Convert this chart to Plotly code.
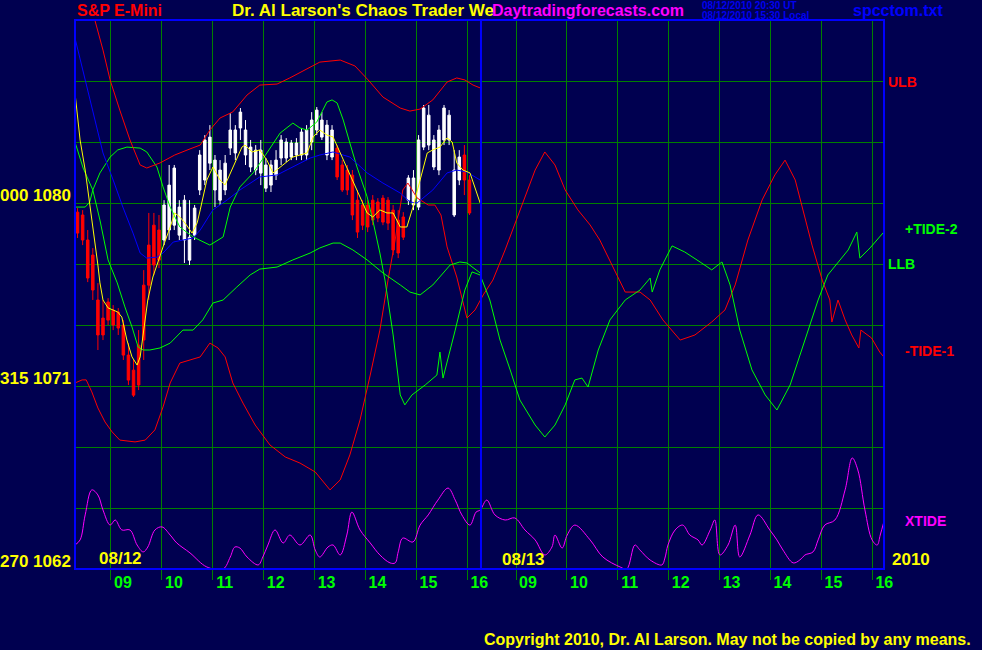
import plotly.graph_objects as go

# ---------------- axis / labels ----------------
# x = session hours measured from the left edge of the chart (08/12 ~08:17)
hour_labels = ["09", "10", "11", "12", "13", "14", "15", "16",
               "09", "10", "11", "12", "13", "14", "15", "16"]
hour_tick_t = [0.707, 1.707, 2.707, 3.707, 4.707, 5.707, 6.707, 7.707,
               8.664, 9.664, 10.664, 11.664, 12.664, 13.664, 14.664, 15.664]
now_t = 7.976
x_end = 15.894
price_min, price_max = 1062, 1089

# ---------------- price bars (08/12, 6-minute bars) ----------------
bar_t = [round(0.05 + 0.1 * k, 2) for k in range(79)]
bar_high = [1079.75, 1079.65, 1078.67, 1077.78, 1076.06, 1075.23, 1075.32, 1074.98, 1074.83, 1074.24,
            1073.11, 1072.28, 1073.75, 1076.70, 1079.51, 1079.51, 1079.41, 1080.14, 1081.87, 1081.87,
            1080.14, 1080.39, 1080.14, 1079.90, 1082.60, 1083.34, 1083.83, 1082.36, 1082.11, 1082.36,
            1084.42, 1083.83, 1084.67, 1084.08, 1083.10, 1082.85, 1083.10, 1082.21, 1082.11, 1082.60,
            1083.34, 1083.19, 1083.10, 1083.19, 1083.69, 1083.83, 1084.47, 1084.72, 1084.47, 1084.08,
            1083.83, 1082.85, 1082.11, 1081.87, 1081.62, 1080.64, 1080.14, 1080.14, 1080.39, 1080.24,
            1080.39, 1080.29, 1079.90, 1079.65, 1079.55, 1081.37, 1081.62, 1083.34, 1084.82, 1084.82,
            1083.34, 1083.83, 1084.82, 1084.57, 1082.60, 1082.60, 1082.85, 1081.37, 1080.14]
bar_low = [1078.28, 1077.93, 1076.11, 1075.23, 1072.77, 1073.26, 1074.00, 1073.75, 1073.51, 1072.28,
           1071.05, 1070.46, 1070.80, 1072.28, 1075.23, 1076.46, 1076.80, 1077.93, 1078.18, 1078.67,
           1078.18, 1077.05, 1076.95, 1078.18, 1080.39, 1080.88, 1081.62, 1079.80, 1079.90, 1080.39,
           1082.36, 1082.11, 1083.10, 1081.87, 1081.52, 1081.37, 1080.88, 1080.54, 1080.54, 1081.13,
           1081.87, 1082.01, 1082.11, 1082.11, 1082.11, 1082.11, 1082.60, 1083.34, 1083.10, 1082.11,
           1082.11, 1081.13, 1080.54, 1080.39, 1079.16, 1078.28, 1078.67, 1078.57, 1078.91, 1079.06,
           1078.91, 1078.67, 1077.44, 1077.29, 1078.18, 1079.90, 1079.65, 1079.65, 1082.60, 1082.60,
           1081.62, 1081.37, 1082.85, 1082.85, 1079.31, 1080.88, 1080.39, 1079.41, 1078.91]
bar_open = [1079.55, 1079.41, 1078.18, 1077.44, 1075.23, 1074.34, 1075.13, 1074.73, 1074.64, 1074.00,
            1072.52, 1071.78, 1073.01, 1075.96, 1077.93, 1078.91, 1078.67, 1079.90, 1080.88, 1081.72,
            1079.80, 1080.14, 1078.32, 1079.75, 1082.36, 1083.10, 1083.24, 1082.11, 1081.62, 1081.96,
            1083.59, 1083.59, 1084.47, 1083.59, 1082.75, 1082.60, 1082.60, 1081.87, 1081.87, 1082.11,
            1083.10, 1083.00, 1082.95, 1082.95, 1083.49, 1083.59, 1084.08, 1084.57, 1084.08, 1083.83,
            1083.59, 1082.70, 1081.87, 1081.62, 1081.37, 1080.14, 1079.90, 1079.90, 1080.14, 1080.05,
            1080.24, 1080.14, 1079.65, 1079.16, 1079.31, 1081.23, 1081.23, 1083.10, 1084.67, 1084.32,
            1083.10, 1083.59, 1084.67, 1084.32, 1081.62, 1082.26, 1082.36, 1081.13, 1079.80]
bar_close = [1078.52, 1078.18, 1076.31, 1075.72, 1073.51, 1073.51, 1074.24, 1074.00, 1073.85, 1072.52,
             1071.29, 1070.55, 1071.05, 1073.26, 1075.96, 1076.95, 1077.19, 1078.18, 1078.67, 1078.91,
             1078.42, 1078.18, 1077.19, 1078.42, 1080.64, 1081.13, 1081.96, 1080.64, 1080.14, 1080.64,
             1082.70, 1082.46, 1083.69, 1082.36, 1081.77, 1081.62, 1081.47, 1080.73, 1080.88, 1081.37,
             1082.21, 1082.21, 1082.26, 1082.36, 1082.36, 1082.36, 1083.00, 1083.59, 1083.24, 1082.36,
             1082.26, 1081.28, 1080.64, 1080.64, 1079.41, 1078.57, 1078.91, 1078.82, 1079.16, 1079.26,
             1079.06, 1079.01, 1077.69, 1077.54, 1078.32, 1080.14, 1079.90, 1079.80, 1082.75, 1082.85,
             1081.77, 1081.62, 1083.10, 1083.10, 1079.41, 1081.13, 1081.13, 1079.51, 1079.01]
bar_trend = "RRRRRRRRRRRRRRRRRWWWWWWWWWWWWWWWWWWWWWWWWWWWWWWWWWWRRRRRRRRRRRRRRWWWWWWWWWWWRR"

# ---------------- bands and averages (08/12 only) ----------------
ulb_t = [0.26, 0.39, 0.55, 0.69, 0.88, 1.08, 1.28, 1.41, 1.67, 1.96, 2.26, 2.46, 2.65, 2.85, 3.10, 3.38, 3.63,
         3.97, 4.22, 4.52, 4.81, 5.21, 5.50, 5.76, 6.05, 6.39, 6.58, 6.78, 7.03, 7.31, 7.50, 7.66, 7.82, 7.96]
ulb_p = [1089.74, 1089.00, 1087.52, 1086.05, 1084.57, 1083.10, 1081.87, 1081.72, 1081.97, 1082.36, 1082.66,
         1082.85, 1083.59, 1084.18, 1084.48, 1085.31, 1085.80, 1085.85, 1086.15, 1086.54, 1086.93, 1087.03,
         1086.74, 1086.05, 1085.21, 1084.67, 1084.52, 1084.62, 1085.07, 1085.95, 1086.15, 1086.05, 1085.80, 1085.66]

llb_t = [0, 0.16, 0.35, 0.49, 0.65, 0.83, 0.98, 1.12, 1.24, 1.34, 1.47, 1.67, 1.87, 2.12, 2.32, 2.51, 2.71, 2.91,
         3.18, 3.44, 3.63, 3.97, 4.28, 4.62, 4.81, 5.07, 5.21, 5.46, 5.74, 6.05, 6.39, 6.58, 6.78, 7.03, 7.37,
         7.56, 7.70, 7.96]
llb_p = [1083.00, 1081.72, 1080.64, 1079.16, 1077.20, 1076.07, 1074.89, 1073.90, 1072.92, 1072.77, 1072.77,
         1072.87, 1073.11, 1073.75, 1073.75, 1074.25, 1075.08, 1075.23, 1075.87, 1076.46, 1076.75, 1076.85,
         1077.20, 1077.54, 1077.79, 1078.03, 1078.03, 1077.69, 1077.20, 1076.56, 1075.97, 1075.62, 1075.48,
         1075.97, 1076.95, 1077.10, 1077.05, 1076.56]

slow_t = [0, 0.20, 0.35, 0.55, 0.75, 0.94, 1.14, 1.28, 1.41, 1.61, 1.73, 1.93, 2.32, 2.46, 2.71, 2.99, 3.24,
          3.63, 3.97, 4.28, 4.62, 4.81, 5.07, 5.40, 5.74, 6.05, 6.39, 6.58, 6.72, 7.03, 7.31, 7.50, 7.70, 7.96]
slow_p = [1088.11, 1086.05, 1084.43, 1082.46, 1081.13, 1079.80, 1078.52, 1077.54, 1077.29, 1077.34, 1077.54,
          1078.08, 1078.28, 1078.67, 1079.66, 1080.15, 1080.64, 1081.28, 1081.38, 1081.77, 1082.21, 1082.36,
          1082.51, 1082.26, 1081.48, 1080.98, 1080.49, 1080.05, 1080.00, 1080.64, 1081.48, 1081.62, 1081.52, 1081.13]

fast_t = [0, 0.10, 0.20, 0.29, 0.39, 0.45, 0.49, 0.55, 0.65, 0.84, 0.92, 1.02, 1.12, 1.22, 1.28, 1.34, 1.43,
          1.53, 1.67, 1.73, 1.87, 1.96, 2.06, 2.16, 2.30, 2.40, 2.46, 2.59, 2.71, 2.85, 2.95, 3.10, 3.28, 3.34,
          3.48, 3.63, 3.77, 3.89, 4.03, 4.28, 4.56, 4.68, 4.81, 4.95, 5.07, 5.21, 5.34, 5.46, 5.60, 5.74, 5.85,
          5.99, 6.13, 6.25, 6.39, 6.52, 6.64, 6.78, 6.92, 7.03, 7.17, 7.31, 7.41, 7.50, 7.62, 7.76, 7.96]
fast_p = [1085.41, 1083.10, 1081.62, 1080.00, 1078.18, 1076.95, 1076.07, 1075.23, 1074.84, 1074.64, 1074.39,
          1073.26, 1072.43, 1072.03, 1072.43, 1073.61, 1075.23, 1076.36, 1077.44, 1077.84, 1078.82, 1079.51,
          1079.31, 1079.02, 1078.52, 1079.02, 1079.66, 1081.13, 1081.77, 1081.13, 1080.89, 1081.77, 1082.75,
          1082.85, 1082.51, 1082.61, 1082.11, 1081.48, 1081.77, 1082.26, 1082.46, 1083.25, 1083.59, 1083.34,
          1083.25, 1082.46, 1081.77, 1081.13, 1080.30, 1079.51, 1079.31, 1079.66, 1079.51, 1079.51, 1078.82,
          1078.82, 1079.80, 1081.13, 1082.46, 1082.61, 1082.75, 1083.20, 1083.00, 1081.97, 1081.62, 1081.48, 1080.00]

# ---------------- tides (both days) ----------------
tide2_t = [0, 0.20, 0.29, 0.35, 0.49, 0.69, 0.84, 1.02, 1.28, 1.41, 1.61, 1.73, 1.87, 2.06, 2.32, 2.65, 2.91,
           3.05, 3.24, 3.50, 3.77, 4.03, 4.28, 4.42, 4.56, 4.75, 4.95, 5.05, 5.15, 5.27, 5.40, 5.54, 5.74, 5.85,
           5.99, 6.09, 6.25, 6.39, 6.48, 6.62, 6.88, 7.11, 7.17, 7.23, 7.47, 7.66, 7.80, 7.96, 8.15, 8.35, 8.55,
           8.74, 9.04, 9.23, 9.43, 9.63, 9.82, 9.96, 10.08, 10.28, 10.51, 10.81, 11.10, 11.30, 11.34, 11.49,
           11.73, 11.98, 12.28, 12.51, 12.71, 12.87, 13.06, 13.30, 13.56, 13.79, 14.05, 14.34, 14.60, 14.79,
           14.99, 15.19, 15.36, 15.42, 15.62, 15.89]
tide2_p = [1079.80, 1079.80, 1080.05, 1080.64, 1081.48, 1082.26, 1082.61, 1082.75, 1082.70, 1082.51,
           1081.77, 1080.79, 1079.80, 1078.82, 1078.33, 1077.93, 1078.33, 1079.80, 1080.79, 1081.48,
           1082.46, 1083.44, 1083.93, 1083.69, 1083.59, 1083.98, 1084.97, 1085.07, 1084.92, 1084.08,
           1082.95, 1081.77, 1080.30, 1079.16, 1077.54, 1076.21, 1073.51, 1070.56, 1070.07, 1070.56,
           1071.05, 1071.54, 1072.67, 1071.39, 1073.75, 1075.72, 1076.61, 1076.46, 1075.23, 1073.26,
           1071.79, 1070.31, 1069.08, 1068.49, 1069.08, 1070.07, 1071.30, 1071.39, 1070.95, 1072.77,
           1074.25, 1075.23, 1075.72, 1076.31, 1075.62, 1076.71, 1077.89, 1077.59, 1077.10, 1076.71,
           1077.10, 1075.97, 1073.75, 1071.79, 1070.56, 1069.82, 1071.05, 1073.26, 1075.23, 1076.46,
           1077.10, 1077.69, 1078.57, 1077.29, 1077.79, 1078.57]

tide1_t = [0, 0.14, 0.22, 0.33, 0.45, 0.59, 0.73, 0.88, 1.18, 1.38, 1.57, 1.73, 1.87, 2.06, 2.26, 2.46, 2.65,
           2.81, 2.95, 3.10, 3.30, 3.54, 3.83, 4.13, 4.42, 4.72, 5.01, 5.21, 5.40, 5.60, 5.80, 5.99, 6.15, 6.29,
           6.44, 6.54, 6.72, 6.94, 7.07, 7.19, 7.31, 7.50, 7.70, 7.86, 8.02, 8.21, 8.45, 8.74, 9.04, 9.23, 9.43,
           9.63, 9.88, 10.12, 10.31, 10.55, 10.81, 11.10, 11.30, 11.55, 11.89, 12.18, 12.51, 12.77, 12.97,
           13.22, 13.50, 13.75, 13.95, 14.15, 14.30, 14.48, 14.68, 14.83, 14.87, 14.99, 15.13, 15.26, 15.40,
           15.44, 15.65, 15.81, 15.89]
tide1_p = [1071.15, 1071.30, 1071.30, 1070.71, 1069.92, 1069.23, 1068.74, 1068.34, 1068.25, 1068.34,
           1068.84, 1069.97, 1071.15, 1072.13, 1072.28, 1072.43, 1073.11, 1072.87, 1072.43, 1071.15,
           1070.16, 1069.08, 1068.10, 1067.51, 1067.21, 1066.77, 1065.89, 1066.38, 1067.61, 1069.33,
           1071.54, 1073.75, 1076.21, 1078.18, 1080.64, 1080.98, 1080.25, 1079.90, 1079.90, 1079.41,
           1077.84, 1076.36, 1074.34, 1074.74, 1075.48, 1076.21, 1077.69, 1079.66, 1081.62, 1082.51,
           1081.87, 1080.64, 1079.66, 1078.92, 1078.18, 1076.95, 1075.62, 1075.62, 1075.23, 1074.25,
           1073.26, 1073.51, 1074.15, 1074.74, 1075.97, 1078.18, 1080.15, 1081.38, 1082.11, 1081.13,
           1079.66, 1077.93, 1076.21, 1075.23, 1074.15, 1075.23, 1074.25, 1073.51, 1072.87, 1073.75,
           1073.36, 1072.67, 1072.43]

xtide_t = [0.00, 0.10, 0.20, 0.33, 0.45, 0.55, 0.69, 0.79, 0.92, 1.08, 1.22, 1.34, 1.43, 1.57, 1.71, 1.87,
           2.00, 2.26, 2.59, 2.91, 3.05, 3.14, 3.24, 3.38, 3.60, 3.69, 3.79, 3.93, 4.09, 4.22, 4.42, 4.62,
           4.72, 4.81, 4.97, 5.07, 5.21, 5.34, 5.44, 5.60, 5.80, 5.99, 6.19, 6.29, 6.35, 6.44, 6.64, 6.78,
           6.94, 7.13, 7.33, 7.47, 7.60, 7.76, 7.88, 7.96, 8.09, 8.25, 8.45, 8.64, 8.84, 9.04, 9.23, 9.37,
           9.43, 9.57, 9.67, 9.82, 10.12, 10.37, 10.71, 10.84, 11.00, 11.10, 11.30, 11.53, 11.59, 11.65,
           11.79, 11.94, 12.08, 12.24, 12.32, 12.48, 12.57, 12.67, 12.83, 12.97, 13.06, 13.26, 13.42, 13.65,
           13.79, 13.91, 14.11, 14.24, 14.34, 14.50, 14.60, 14.73, 14.93, 15.13, 15.27, 15.38, 15.52, 15.66,
           15.76, 15.82, 15.89]
xtide_p = [1063.18, 1063.43, 1064.66, 1065.89, 1065.64, 1064.90, 1064.16, 1064.41, 1063.92, 1063.92,
           1063.18, 1062.84, 1063.08, 1063.92, 1064.07, 1063.67, 1063.28, 1062.79, 1062.10, 1062.00,
           1062.59, 1063.08, 1063.03, 1062.59, 1062.20, 1062.59, 1063.18, 1063.92, 1063.28, 1063.67,
           1063.18, 1063.67, 1062.93, 1062.59, 1063.08, 1063.18, 1062.69, 1063.67, 1064.80, 1063.92,
           1063.28, 1062.69, 1062.30, 1062.30, 1062.84, 1063.52, 1063.33, 1064.16, 1064.66, 1065.39,
           1065.98, 1065.39, 1064.66, 1064.16, 1064.80, 1064.90, 1065.39, 1064.66, 1064.41, 1064.51,
           1063.92, 1063.43, 1062.69, 1063.08, 1063.67, 1063.03, 1063.67, 1064.16, 1063.43, 1062.59,
           1062.10, 1062.00, 1063.18, 1062.93, 1062.44, 1062.20, 1062.54, 1063.18, 1063.92, 1064.16,
           1063.67, 1063.43, 1063.18, 1063.92, 1064.41, 1062.69, 1063.18, 1064.16, 1062.59, 1063.67,
           1064.66, 1063.92, 1063.43, 1062.93, 1062.30, 1062.44, 1062.69, 1062.84, 1063.43, 1064.16,
           1064.41, 1065.89, 1067.46, 1066.87, 1064.90, 1063.43, 1063.18, 1063.67, 1064.31]

# ---------------- colours ----------------
BG = "#000050"
GRID = "#008000"
FRAME = "#0000ff"
RED = "#ff0000"
GREEN = "#00ff00"
YELLOW = "#ffff00"
MAGENTA = "#ff00ff"
BLUE = "#0000ff"
FONT = "Liberation Sans, Arial, sans-serif"

fig = go.Figure()


def line(t, p, color, shape="linear"):
    fig.add_trace(go.Scatter(x=t, y=p, mode="lines", line=dict(color=color, width=1, shape=shape),
                             hoverinfo="skip", showlegend=False))


line(xtide_t, xtide_p, MAGENTA, "spline")
line(tide1_t, tide1_p, RED)
line(tide2_t, tide2_p, GREEN)
line(ulb_t, ulb_p, RED)
line(llb_t, llb_p, GREEN)
line(slow_t, slow_p, BLUE)

for state, col in (("R", RED), ("W", "#ffffff")):
    idx = [i for i, s in enumerate(bar_trend) if s == state]
    fig.add_trace(go.Candlestick(
        x=[bar_t[i] for i in idx],
        open=[bar_open[i] for i in idx], high=[bar_high[i] for i in idx],
        low=[bar_low[i] for i in idx], close=[bar_close[i] for i in idx],
        increasing=dict(line=dict(color=col, width=1), fillcolor=col),
        decreasing=dict(line=dict(color=col, width=1), fillcolor=col),
        whiskerwidth=0, showlegend=False, hoverinfo="skip"))

line(fast_t, fast_p, YELLOW)

# ---------------- layout ----------------
fig.update_layout(
    width=982, height=650,
    margin=dict(l=75, r=98, t=20, b=81),
    paper_bgcolor=BG, plot_bgcolor=BG,
    showlegend=False,
    xaxis=dict(range=[0, x_end], tickmode="array", tickvals=hour_tick_t, ticktext=hour_labels,
               showgrid=True, gridcolor=GRID, gridwidth=1, zeroline=False, showline=False,
               ticks="outside", ticklen=10, tickcolor=GRID, tickwidth=1,
               tickfont=dict(family=FONT, size=16, color=GREEN, weight="bold"),
               ticklabelshift=12, ticklabelstandoff=-11,
               rangeslider=dict(visible=False), fixedrange=True),
    yaxis=dict(range=[price_min, price_max], tick0=price_min, dtick=3, showticklabels=False,
               showgrid=True, gridcolor=GRID, gridwidth=1, zeroline=False, showline=False,
               ticks="", fixedrange=True),
    shapes=[
        dict(type="line", xref="x", yref="paper", x0=now_t, x1=now_t, y0=0, y1=1,
             line=dict(color=FRAME, width=2)),
        dict(type="rect", xref="paper", yref="paper", x0=0, x1=1, y0=0, y1=1,
             line=dict(color=FRAME, width=2)),
    ],
)


def note(text, x, y, color, size, xanchor="left"):
    fig.add_annotation(text=text, xref="paper", yref="paper", x=x, y=y, xanchor=xanchor, yanchor="middle",
                       showarrow=False, font=dict(family=FONT, size=size, color=color, weight="bold"))


note("S&P E-Mini", 0.0, 1.0164, RED, 16)
note("Dr. Al Larson's Chaos Trader We", 0.1916, 1.0164, YELLOW, 17)
note("Daytradingforecasts.com", 0.513, 1.0164, MAGENTA, 16)
note("08/12/2010 20:30 UT", 0.7726, 1.0264, "#0000f0", 10)
note("08/12/2010 15:30 Local", 0.7726, 1.0082, "#0000f0", 10)
note("spcctom.txt", 0.9592, 1.0182, BLUE, 16)

note("000 1080", -0.0025, 0.6812, YELLOW, 17, "right")
note("315 1071", -0.0025, 0.3461, YELLOW, 17, "right")
note("270 1062", -0.0025, 0.0128, YELLOW, 17, "right")

note("ULB", 1.0025, 0.8871, RED, 14)
note("+TIDE-2", 1.0235, 0.6193, GREEN, 14)
note("LLB", 1.0025, 0.5556, GREEN, 14)
note("-TIDE-1", 1.0235, 0.3971, RED, 14)
note("XTIDE", 1.0235, 0.0874, MAGENTA, 14)

note("08/12", 0.0272, 0.0200, YELLOW, 17)
note("08/13", 0.5253, 0.0182, YELLOW, 17)
note("2010", 1.0074, 0.0182, YELLOW, 17)

note("Copyright 2010, Dr. Al Larson. May not be copied by any means.", 0.5031, -0.1293, YELLOW, 16)

fig.write_html("out.html", config={"displayModeBar": False},
               post_script="document.body.style.margin='0';"
                           "document.body.style.background='" + BG + "';")
